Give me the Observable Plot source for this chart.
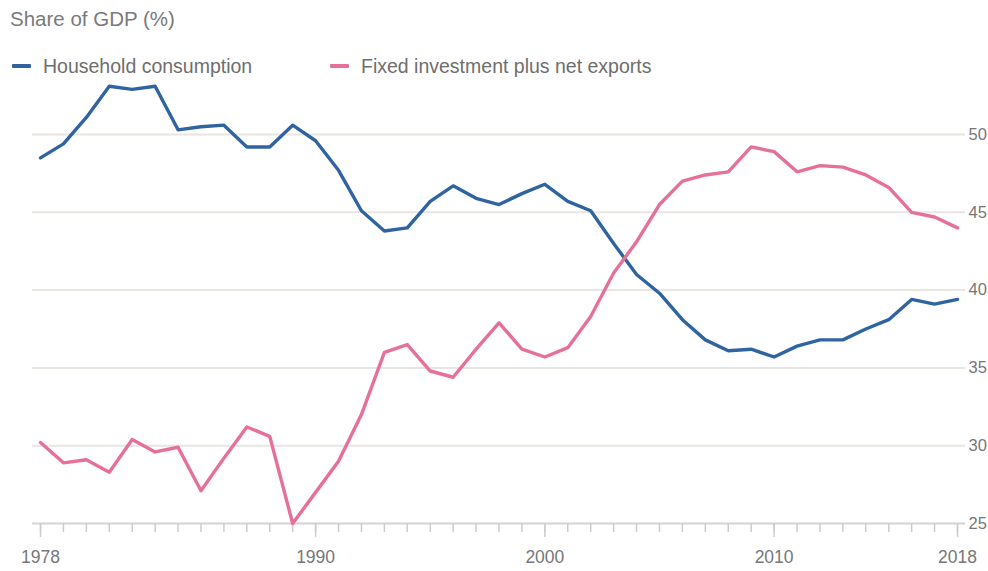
<!DOCTYPE html>
<html>
<head>
<meta charset="utf-8">
<script src="https://cdn.jsdelivr.net/npm/d3@7"></script>
<script src="https://cdn.jsdelivr.net/npm/@observablehq/plot@0.6"></script>
<style>
  html, body { margin: 0; padding: 0; background: #fff; overflow: hidden; }
  body { width: 988px; height: 571px; position: relative; font-family: "Liberation Sans", Arial, sans-serif; }
  #title { position: absolute; left: 10px; top: 7px; font-size: 20.5px; color: #7a7a7a; white-space: nowrap; }
  #legend { position: absolute; left: 12px; top: 54px; font-size: 19.5px; color: #6e6e6e; white-space: nowrap; }
  .item { position: absolute; top: 0; display: flex; align-items: center; height: 24px; }
  .sw { width: 19px; height: 4px; border-radius: 1px; margin-right: 12px; }
  #chart { position: absolute; left: 0; top: 80px; }
</style>
</head>
<body>
<div id="title">Share of GDP (%)</div>
<div id="legend"></div>
<div id="chart"></div>
<script>
const years = d3.range(1978, 2019);
const household = [48.5, 49.4, 51.1, 53.1, 52.9, 53.1, 50.3, 50.5, 50.6, 49.2,
  49.2, 50.6, 49.6, 47.7, 45.1, 43.8, 44.0, 45.7, 46.7, 45.9,
  45.5, 46.2, 46.8, 45.7, 45.1, 43.0, 41.0, 39.8, 38.1, 36.8,
  36.1, 36.2, 35.7, 36.4, 36.8, 36.8, 37.5, 38.1, 39.4, 39.1, 39.4];
const investment = [30.2, 28.9, 29.1, 28.3, 30.4, 29.6, 29.9, 27.1, 29.2, 31.2,
  30.6, 25.0, 27.0, 29.0, 32.0, 36.0, 36.5, 34.8, 34.4, 36.2,
  37.9, 36.2, 35.7, 36.3, 38.3, 41.1, 43.1, 45.5, 47.0, 47.4,
  47.6, 49.2, 48.9, 47.6, 48.0, 47.9, 47.4, 46.6, 45.0, 44.7, 44.0];
const seriesNames = ["Household consumption", "Fixed investment plus net exports"];
const seriesColors = ["#2f64a0", "#e6709a"];
const yTicks = [25, 30, 35, 40, 45, 50];
const xLabelTicks = [1978, 1990, 2000, 2010, 2018];

const data = [];
years.forEach((y, i) => {
  data.push({year: y, value: household[i], series: seriesNames[0]});
  data.push({year: y, value: investment[i], series: seriesNames[1]});
});

// legend
const legend = document.getElementById("legend");
const legendX = [0, 318];
seriesNames.forEach((n, i) => {
  const it = document.createElement("div");
  it.className = "item";
  it.style.left = legendX[i] + "px";
  it.innerHTML = `<span class="sw" style="background:${seriesColors[i]}"></span><span>${n}</span>`;
  legend.appendChild(it);
});

const plot = Plot.plot({
  width: 988,
  height: 491,
  marginLeft: 40,
  marginRight: 31,
  marginTop: 54,
  marginBottom: 48,
  style: {fontFamily: "Liberation Sans, Arial, sans-serif", fontSize: "17px", color: "#777", background: "transparent"},
  x: {domain: [1978, 2018]},
  y: {domain: [25, 50]},
  color: {domain: seriesNames, range: seriesColors},
  marks: [
    Plot.ruleY(yTicks.filter(d => d > 25), {stroke: "#e9e6e2", strokeWidth: 2, insetLeft: -8, insetRight: -8}),
    Plot.ruleY([25], {stroke: "#d6d3cf", strokeWidth: 2, insetLeft: -8, insetRight: -8}),
    Plot.axisX({ticks: years, tickSize: 9, fill: "none", stroke: "#cfccc8", strokeWidth: 1.5, label: null}),
    Plot.axisX({ticks: xLabelTicks, tickSize: 14, tickPadding: 13, tickFormat: d => String(d), stroke: "#cfccc8", strokeWidth: 1.5, fill: "#777", label: null, fontSize: 17.5}),
    Plot.axisY({anchor: "right", ticks: yTicks, tickSize: 0, tickPadding: 11, fill: "#777", label: null, fontSize: 16.5}),
    Plot.line(data, {x: "year", y: "value", z: "series", stroke: "series", strokeWidth: 3.4, strokeLinejoin: "round", strokeLinecap: "round"})
  ]
});
document.getElementById("chart").appendChild(plot);
</script>
</body>
</html>
